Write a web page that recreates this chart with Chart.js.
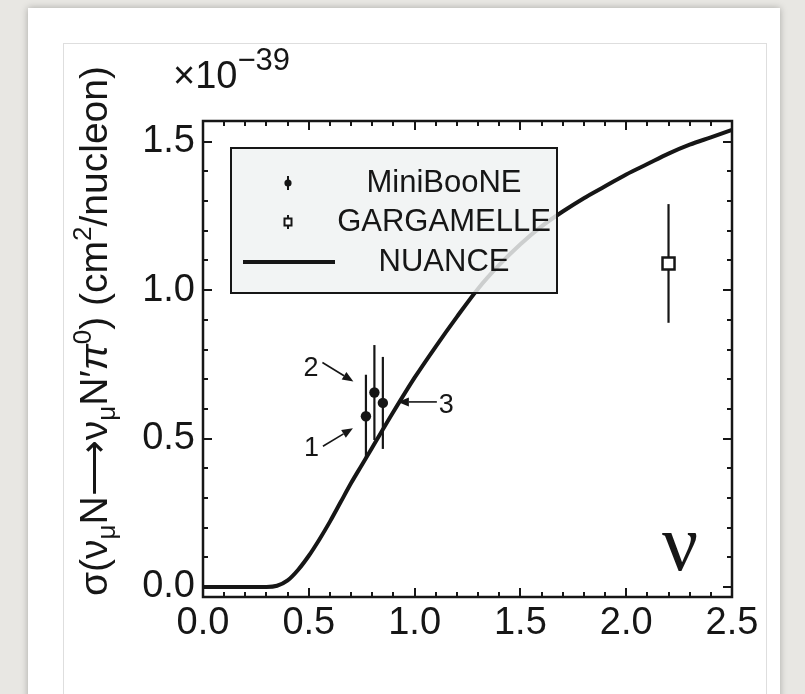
<!DOCTYPE html>
<html lang="en">
<head>
<meta charset="UTF-8">
<title>NC pi0 cross section</title>
<script src="https://cdn.jsdelivr.net/npm/chart.js@4.4.1/dist/chart.umd.min.js"></script>
<style>
  body { margin: 0; width: 805px; height: 694px; overflow: hidden; position: relative; background: #e8e7e3; }
  #card { position: absolute; left: 28px; top: 8px; width: 752px; height: 720px; background: #fff; box-shadow: 0 0 7px rgba(0,0,0,0.28); }
  #panel { position: absolute; left: 63px; top: 43px; width: 702px; height: 700px; background: #fff; border: 1px solid #dedede; }
  #chart { position: absolute; left: 0; top: 0; }
</style>
</head>
<body>
<div id="card"></div>
<div id="panel"></div>
<canvas id="chart" width="805" height="694"></canvas>

<script>
// NUANCE prediction (curve)
const nuanceX = [0, 0.30, 0.35, 0.40, 0.45, 0.50, 0.55, 0.60, 0.65, 0.70, 0.75, 0.80, 0.90, 1.00, 1.10, 1.20, 1.30, 1.40, 1.50, 1.60, 1.70, 1.80, 1.90, 2.00, 2.10, 2.20, 2.30, 2.40, 2.50];
const nuanceY = [0, 0, 0.004, 0.022, 0.058, 0.105, 0.16, 0.22, 0.285, 0.35, 0.41, 0.47, 0.59, 0.705, 0.81, 0.91, 1.005, 1.085, 1.155, 1.215, 1.265, 1.31, 1.35, 1.39, 1.425, 1.46, 1.49, 1.515, 1.54];

// MiniBooNE measurements 1, 2, 3
const minibooneX = [0.77, 0.81, 0.85];
const minibooneY = [0.575, 0.655, 0.62];
const minibooneErr = [0.14, 0.16, 0.155];
const minibooneNames = ['1', '2', '3'];

// Gargamelle
const gargamelleX = [2.2];
const gargamelleY = [1.09];
const gargamelleErr = [0.2];

const xTickValues = [0, 0.5, 1.0, 1.5, 2.0, 2.5];
const yTickValues = [0, 0.5, 1.0, 1.5];

const FONT = "'Liberation Sans', Arial, Helvetica, sans-serif";
const INK = '#161616';

// where the number + arrow sits around each MiniBooNE point (pixels from the marker)
const callouts = [
  { tip: [-13, 12], tail: [-43, 30], text: [-47, 40], align: 'right' },
  { tip: [-21, -11], tail: [-52, -30], text: [-56, -17], align: 'right' },
  { tip: [15, -1], tail: [54, -1], text: [56, 10], align: 'left' }
];

function arrow(ctx, x0, y0, x1, y1) {
  const a = Math.atan2(y1 - y0, x1 - x0);
  const hl = 11, hw = 4.5;
  const bx = x1 - hl * Math.cos(a), by = y1 - hl * Math.sin(a);
  ctx.beginPath();
  ctx.moveTo(x0, y0);
  ctx.lineTo(bx, by);
  ctx.stroke();
  ctx.beginPath();
  ctx.moveTo(x1, y1);
  ctx.lineTo(bx - hw * Math.sin(a), by + hw * Math.cos(a));
  ctx.lineTo(bx + hw * Math.sin(a), by - hw * Math.cos(a));
  ctx.closePath();
  ctx.fill();
}

// text made of runs with their own size and baseline shift
function richText(ctx, runs, x, y, align) {
  let total = 0;
  runs.forEach(r => {
    ctx.font = (r.style || '') + ' ' + r.size + 'px ' + FONT;
    r.w = ctx.measureText(r.t).width;
    total += r.w;
  });
  let cx = align === 'center' ? x - total / 2 : x;
  ctx.textAlign = 'left';
  ctx.textBaseline = 'alphabetic';
  runs.forEach(r => {
    ctx.font = (r.style || '') + ' ' + r.size + 'px ' + FONT;
    ctx.fillText(r.t, cx, y + (r.dy || 0));
    cx += r.w;
  });
}

function errorBar(ctx, x, yLo, yHi) {
  ctx.beginPath();
  ctx.moveTo(x, yLo);
  ctx.lineTo(x, yHi);
  ctx.stroke();
}

const decorations = {
  id: 'decorations',
  beforeDatasetsDraw(chart) {
    const { ctx, scales: { x, y } } = chart;
    ctx.save();
    ctx.strokeStyle = INK;
    ctx.lineWidth = 2.2;
    minibooneX.forEach((v, i) => {
      errorBar(ctx, x.getPixelForValue(v), y.getPixelForValue(minibooneY[i] - minibooneErr[i]), y.getPixelForValue(minibooneY[i] + minibooneErr[i]));
    });
    gargamelleX.forEach((v, i) => {
      errorBar(ctx, x.getPixelForValue(v), y.getPixelForValue(gargamelleY[i] - gargamelleErr[i]), y.getPixelForValue(gargamelleY[i] + gargamelleErr[i]));
    });
    ctx.restore();
  },
  afterDatasetsDraw(chart) {
    const { ctx, chartArea: ca, scales: { x, y } } = chart;
    ctx.save();

    // numbered callouts
    ctx.strokeStyle = INK;
    ctx.fillStyle = INK;
    ctx.lineWidth = 1.6;
    ctx.font = '27px ' + FONT;
    minibooneX.forEach((v, i) => {
      const px = x.getPixelForValue(v), py = y.getPixelForValue(minibooneY[i]);
      const c = callouts[i];
      arrow(ctx, px + c.tail[0], py + c.tail[1], px + c.tip[0], py + c.tip[1]);
      ctx.textAlign = c.align;
      ctx.textBaseline = 'alphabetic';
      ctx.fillText(minibooneNames[i], px + c.text[0], py + c.text[1]);
    });

    // legend box
    const lx = ca.left + 28, ly = ca.top + 27, lw = 326, lh = 145;
    ctx.fillStyle = 'rgba(240,242,242,0.84)';
    ctx.fillRect(lx, ly, lw, lh);
    ctx.strokeStyle = INK;
    ctx.lineWidth = 2;
    ctx.strokeRect(lx, ly, lw, lh);

    const mx = lx + 57, tx = lx + 213;
    const rows = [ly + 35, ly + 74, ly + 114];
    ctx.fillStyle = INK;
    ctx.lineWidth = 2;
    // MiniBooNE symbol
    errorBar(ctx, mx, rows[0] - 7, rows[0] + 7);
    ctx.beginPath();
    ctx.arc(mx, rows[0], 3.6, 0, Math.PI * 2);
    ctx.fill();
    // Gargamelle symbol
    errorBar(ctx, mx, rows[1] - 7, rows[1] + 7);
    ctx.fillStyle = '#fff';
    ctx.fillRect(mx - 3.5, rows[1] - 3.5, 7, 7);
    ctx.strokeRect(mx - 3.5, rows[1] - 3.5, 7, 7);
    // NUANCE line
    ctx.lineWidth = 4;
    ctx.beginPath();
    ctx.moveTo(lx + 12, rows[2]);
    ctx.lineTo(lx + 104, rows[2]);
    ctx.stroke();

    ctx.fillStyle = INK;
    ctx.font = '31px ' + FONT;
    ctx.textAlign = 'center';
    ctx.textBaseline = 'middle';
    ctx.fillText('MiniBooNE', tx, rows[0]);
    ctx.fillText('GARGAMELLE', tx, rows[1]);
    ctx.fillText('NUANCE', tx, rows[2]);

    // neutrino mode tag
    ctx.font = "80px 'Liberation Serif', 'Times New Roman', serif";
    ctx.textAlign = 'center';
    ctx.textBaseline = 'alphabetic';
    ctx.fillText('\u03bd', ca.right - 52, ca.bottom - 27);
    ctx.restore();
  },
  afterDraw(chart) {
    const { ctx, chartArea: ca, scales: { x, y } } = chart;
    ctx.save();
    ctx.strokeStyle = INK;

    // inward tick marks on all four sides
    ctx.lineWidth = 2;
    ctx.beginPath();
    for (let i = 0; i <= 25; i++) {
      const px = Math.round(x.getPixelForValue(i / 10));
      const len = i % 5 === 0 ? 9 : 5;
      ctx.moveTo(px, ca.bottom); ctx.lineTo(px, ca.bottom - len);
      ctx.moveTo(px, ca.top); ctx.lineTo(px, ca.top + len);
    }
    for (let i = 0; i <= 15; i++) {
      const py = Math.round(y.getPixelForValue(i / 10));
      const len = i % 5 === 0 ? 9 : 5;
      ctx.moveTo(ca.left, py); ctx.lineTo(ca.left + len, py);
      ctx.moveTo(ca.right, py); ctx.lineTo(ca.right - len, py);
    }
    ctx.stroke();

    // frame
    ctx.lineWidth = 2.5;
    ctx.strokeRect(ca.left, ca.top, ca.right - ca.left, ca.bottom - ca.top);

    // axis multiplier
    ctx.fillStyle = INK;
    richText(ctx, [
      { t: '\u00d710', size: 38 },
      { t: '\u221239', size: 31, dy: -18 }
    ], ca.left - 30, ca.top - 33, 'left');

    // y-axis title
    ctx.translate(ca.left - 96, (ca.top + ca.bottom) / 2 - 28);
    ctx.rotate(-Math.PI / 2);
    richText(ctx, [
      { t: '\u03c3(\u03bd', size: 39 },
      { t: '\u03bc', size: 26, dy: 8 },
      { t: 'N\u27f6\u03bd', size: 39 },
      { t: '\u03bc', size: 26, dy: 8 },
      { t: 'N\u2032', size: 39 },
      { t: '\u03c0', size: 39, style: 'italic' },
      { t: '0', size: 26, dy: -16 },
      { t: ') (cm', size: 39 },
      { t: '2', size: 26, dy: -16 },
      { t: '/nucleon)', size: 39 }
    ], 0, 0, 'center');
    ctx.restore();
  }
};

const tickFont = { family: FONT, size: 38 };

new Chart(document.getElementById('chart'), {
  type: 'scatter',
  data: {
    datasets: [{
      label: 'MiniBooNE',
      data: minibooneX.map((v, i) => ({ x: v, y: minibooneY[i] })),
      pointStyle: 'circle',
      pointRadius: 5.2,
      backgroundColor: INK,
      borderWidth: 0
    }, {
      label: 'GARGAMELLE',
      data: gargamelleX.map((v, i) => ({ x: v, y: gargamelleY[i] })),
      pointStyle: 'rect',
      pointRadius: 8.5,
      backgroundColor: '#fff',
      borderColor: INK,
      borderWidth: 2.5
    }, {
      label: 'NUANCE',
      type: 'line',
      data: nuanceX.map((v, i) => ({ x: v, y: nuanceY[i] })),
      borderColor: INK,
      borderWidth: 4,
      pointRadius: 0,
      fill: false,
      cubicInterpolationMode: 'monotone'
    }]
  },
  options: {
    responsive: false,
    animation: false,
    devicePixelRatio: 1,
    layout: { padding: { left: 0, right: 73, top: 121, bottom: 37 } },
    plugins: { legend: { display: false }, tooltip: { enabled: false } },
    scales: {
      x: {
        type: 'linear',
        min: 0,
        max: 2.5,
        grid: { display: false, drawTicks: false },
        border: { display: false },
        afterBuildTicks: s => { s.ticks = xTickValues.map(v => ({ value: v })); },
        afterFit: s => { s.height = 60; },
        ticks: { font: tickFont, color: INK, padding: 4, maxRotation: 0, autoSkip: false, callback: v => v.toFixed(1) }
      },
      y: {
        type: 'linear',
        min: -0.034,
        max: 1.57,
        grid: { display: false, drawTicks: false },
        border: { display: false },
        afterBuildTicks: s => { s.ticks = yTickValues.map(v => ({ value: v })); },
        afterFit: s => { s.width = 203; },
        ticks: { font: tickFont, color: INK, padding: 8, autoSkip: false, callback: v => v.toFixed(1) }
      }
    }
  },
  plugins: [decorations]
});
</script>
</body>
</html>
